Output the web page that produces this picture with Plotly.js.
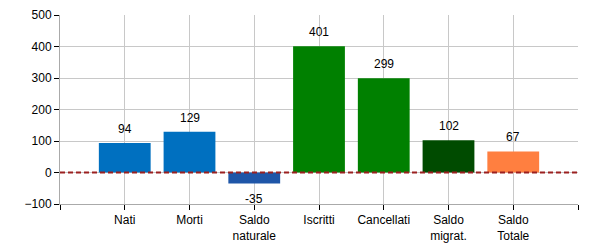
<!DOCTYPE html>
<html><head><meta charset="utf-8">
<script src="https://cdn.plot.ly/plotly-3.0.1.min.js"></script>
<style>body{margin:0;padding:0;background:#fff}#c{width:600px;height:250px}</style>
</head><body><div id="c"></div>
<script>
const categories = ["Nati","Morti","Saldo<br>naturale","Iscritti","Cancellati","Saldo<br>migrat.","Saldo<br>Totale"];
const values = [94, 129, -35, 401, 299, 102, 67];
const colors = ["#0070c0","#0070c0","#1f56a8","#008000","#008000","#004b00","#ff7f40"];
const yTicks = [-100, 0, 100, 200, 300, 400, 500];

const xs = values.map((v,i)=>i);
const trace = {
  type:'bar', x: xs, y: values, width: 0.8,
  marker:{color: colors, line:{width:0}},
  hoverinfo:'none'
};
const zeroLine = {
  type:'scatter', mode:'lines', x:[-1,7], y:[0,0],
  line:{color:'#9b2020', width:2, dash:'5px,3px'}, hoverinfo:'none'
};
const annotations = values.map((v,i)=>({
  x:i, y:v, text:String(v), showarrow:false,
  yshift: v>=0 ? 14 : -15,
  font:{family:'Liberation Sans, Arial, sans-serif', size:12, color:'#000'}
}));
const tickvals = [-1,0,1,2,3,4,5,6,7];
const ticktext = [""].concat(categories).concat([""]);
Plotly.newPlot('c',[trace, zeroLine],{
  width:600, height:250,
  margin:{l:60, r:22, t:15, b:46},
  showlegend:false,
  paper_bgcolor:'#fff', plot_bgcolor:'#fff',
  font:{family:'Liberation Sans, Arial, sans-serif', size:12, color:'#000'},
  xaxis:{range:[-1,7], tickvals:tickvals, ticktext:ticktext, showgrid:true, gridcolor:'#c8c8c8',
    zeroline:false, showline:true, linecolor:'#aaa', ticks:'outside', ticklen:5, tickcolor:'#000',
    tickfont:{size:12}, fixedrange:true},
  yaxis:{range:[-100,500], tickvals:yTicks, showgrid:true, gridcolor:'#c8c8c8', zeroline:false,
    showline:true, linecolor:'#aaa', ticks:'outside', ticklen:5, tickcolor:'#000', mirror:false,
    tickfont:{size:12}, fixedrange:true},
  annotations: annotations
},{displayModeBar:false, staticPlot:true});
</script></body></html>
